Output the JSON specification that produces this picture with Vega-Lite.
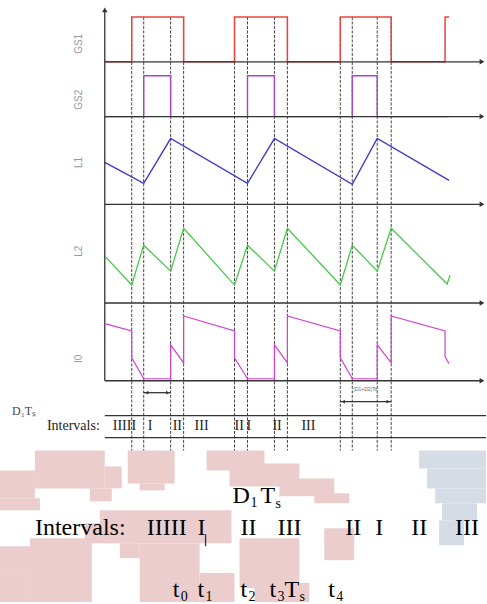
{
  "$schema": "https://vega.github.io/schema/vega-lite/v6.json",
  "width": 487,
  "height": 604,
  "autosize": {"type": "fit", "contains": "padding"},
  "padding": 0,
  "background": "white",
  "config": {"view": {"stroke": null}},
  "datasets": {
    "pink": [
      {"x": 0, "x2": 35, "y": 472, "y2": 500},
      {"x": 35, "x2": 105, "y": 452, "y2": 490},
      {"x": 0, "x2": 40, "y": 500, "y2": 512},
      {"x": 90, "x2": 112, "y": 490, "y2": 503},
      {"x": 105, "x2": 122, "y": 468, "y2": 490},
      {"x": 128, "x2": 175, "y": 452, "y2": 485},
      {"x": 140, "x2": 165, "y": 485, "y2": 492},
      {"x": 207, "x2": 265, "y": 452, "y2": 472},
      {"x": 230, "x2": 300, "y": 465, "y2": 488},
      {"x": 280, "x2": 335, "y": 480, "y2": 498},
      {"x": 315, "x2": 350, "y": 495, "y2": 505},
      {"x": 100, "x2": 232, "y": 512, "y2": 545},
      {"x": 85, "x2": 115, "y": 525, "y2": 545},
      {"x": 0, "x2": 40, "y": 548, "y2": 575},
      {"x": 30, "x2": 92, "y": 540, "y2": 604},
      {"x": 0, "x2": 30, "y": 575, "y2": 604},
      {"x": 140, "x2": 200, "y": 545, "y2": 604},
      {"x": 120, "x2": 140, "y": 545, "y2": 560},
      {"x": 200, "x2": 235, "y": 575, "y2": 604},
      {"x": 240, "x2": 300, "y": 540, "y2": 590},
      {"x": 255, "x2": 310, "y": 585, "y2": 604},
      {"x": 325, "x2": 355, "y": 530, "y2": 562}
    ],
    "blue": [
      {"x": 420, "x2": 487, "y": 452, "y2": 470},
      {"x": 428, "x2": 487, "y": 470, "y2": 490},
      {"x": 436, "x2": 487, "y": 490, "y2": 505},
      {"x": 443, "x2": 478, "y": 505, "y2": 522},
      {"x": 440, "x2": 465, "y": 522, "y2": 547}
    ],
    "axes": [
      {"x": 105, "x2": 105, "y": 382, "y2": 10},
      {"x": 105, "x2": 481, "y": 62, "y2": 62},
      {"x": 105, "x2": 481, "y": 117, "y2": 117},
      {"x": 105, "x2": 481, "y": 205, "y2": 205},
      {"x": 105, "x2": 481, "y": 304, "y2": 304},
      {"x": 105, "x2": 481, "y": 382, "y2": 382},
      {"x": 105, "x2": 487, "y": 417, "y2": 417},
      {"x": 105, "x2": 487, "y": 439, "y2": 439},
      {"x": 144, "x2": 171, "y": 394, "y2": 394},
      {"x": 341, "x2": 392, "y": 403, "y2": 403},
      {"x": 206, "x2": 206, "y": 536, "y2": 548}
    ],
    "heads": [
      {"x": 105, "y": 10, "d": "u"},
      {"x": 483, "y": 62, "d": "r"},
      {"x": 483, "y": 117, "d": "r"},
      {"x": 483, "y": 205, "d": "r"},
      {"x": 483, "y": 304, "d": "r"},
      {"x": 483, "y": 382, "d": "r"}
    ],
    "smallheads": [
      {"x": 147, "y": 394, "d": "l"},
      {"x": 168, "y": 394, "d": "r"},
      {"x": 344, "y": 403, "d": "l"},
      {"x": 389, "y": 403, "d": "r"}
    ],
    "verts": [
      {"x": 132, "x2": 132, "y": 17, "y2": 452},
      {"x": 144, "x2": 144, "y": 17, "y2": 452},
      {"x": 171, "x2": 171, "y": 17, "y2": 452},
      {"x": 184, "x2": 184, "y": 17, "y2": 452},
      {"x": 235, "x2": 235, "y": 17, "y2": 452},
      {"x": 248, "x2": 248, "y": 17, "y2": 452},
      {"x": 275, "x2": 275, "y": 17, "y2": 452},
      {"x": 288, "x2": 288, "y": 17, "y2": 452},
      {"x": 341, "x2": 341, "y": 17, "y2": 452},
      {"x": 353, "x2": 353, "y": 17, "y2": 452},
      {"x": 378, "x2": 378, "y": 17, "y2": 452},
      {"x": 392, "x2": 392, "y": 17, "y2": 452}
    ],
    "signals": [
      {"s": "GS1", "i": 1, "x": 105, "y": 62},
      {"s": "GS1", "i": 2, "x": 132, "y": 62},
      {"s": "GS1", "i": 3, "x": 132, "y": 17},
      {"s": "GS1", "i": 4, "x": 184, "y": 17},
      {"s": "GS1", "i": 5, "x": 184, "y": 62},
      {"s": "GS1", "i": 6, "x": 235, "y": 62},
      {"s": "GS1", "i": 7, "x": 235, "y": 17},
      {"s": "GS1", "i": 8, "x": 288, "y": 17},
      {"s": "GS1", "i": 9, "x": 288, "y": 62},
      {"s": "GS1", "i": 10, "x": 341, "y": 62},
      {"s": "GS1", "i": 11, "x": 341, "y": 17},
      {"s": "GS1", "i": 12, "x": 392, "y": 17},
      {"s": "GS1", "i": 13, "x": 392, "y": 62},
      {"s": "GS1", "i": 14, "x": 446, "y": 62},
      {"s": "GS1", "i": 15, "x": 446, "y": 17},
      {"s": "GS1", "i": 16, "x": 450, "y": 17},
      {"s": "GS2", "i": 1, "x": 105, "y": 117},
      {"s": "GS2", "i": 2, "x": 144, "y": 117},
      {"s": "GS2", "i": 3, "x": 144, "y": 76},
      {"s": "GS2", "i": 4, "x": 171, "y": 76},
      {"s": "GS2", "i": 5, "x": 171, "y": 117},
      {"s": "GS2", "i": 6, "x": 248, "y": 117},
      {"s": "GS2", "i": 7, "x": 248, "y": 76},
      {"s": "GS2", "i": 8, "x": 275, "y": 76},
      {"s": "GS2", "i": 9, "x": 275, "y": 117},
      {"s": "GS2", "i": 10, "x": 353, "y": 117},
      {"s": "GS2", "i": 11, "x": 353, "y": 76},
      {"s": "GS2", "i": 12, "x": 378, "y": 76},
      {"s": "GS2", "i": 13, "x": 378, "y": 117},
      {"s": "GS2", "i": 14, "x": 450, "y": 117},
      {"s": "L1", "i": 1, "x": 105, "y": 163},
      {"s": "L1", "i": 2, "x": 144, "y": 184},
      {"s": "L1", "i": 3, "x": 171, "y": 139},
      {"s": "L1", "i": 4, "x": 248, "y": 184},
      {"s": "L1", "i": 5, "x": 275, "y": 139},
      {"s": "L1", "i": 6, "x": 353, "y": 185},
      {"s": "L1", "i": 7, "x": 378, "y": 139},
      {"s": "L1", "i": 8, "x": 450, "y": 181},
      {"s": "L2", "i": 1, "x": 106, "y": 258},
      {"s": "L2", "i": 2, "x": 132, "y": 286},
      {"s": "L2", "i": 3, "x": 144, "y": 246},
      {"s": "L2", "i": 4, "x": 171, "y": 272},
      {"s": "L2", "i": 5, "x": 184, "y": 229},
      {"s": "L2", "i": 6, "x": 235, "y": 286},
      {"s": "L2", "i": 7, "x": 248, "y": 246},
      {"s": "L2", "i": 8, "x": 275, "y": 272},
      {"s": "L2", "i": 9, "x": 288, "y": 229},
      {"s": "L2", "i": 10, "x": 341, "y": 286},
      {"s": "L2", "i": 11, "x": 353, "y": 246},
      {"s": "L2", "i": 12, "x": 378, "y": 272},
      {"s": "L2", "i": 13, "x": 392, "y": 229},
      {"s": "L2", "i": 14, "x": 448, "y": 285},
      {"s": "L2", "i": 15, "x": 451, "y": 276},
      {"s": "I0", "i": 1, "x": 106, "y": 325},
      {"s": "I0", "i": 2, "x": 132, "y": 332},
      {"s": "I0", "i": 3, "x": 132, "y": 359},
      {"s": "I0", "i": 4, "x": 144, "y": 380},
      {"s": "I0", "i": 5, "x": 171, "y": 380},
      {"s": "I0", "i": 6, "x": 171, "y": 346},
      {"s": "I0", "i": 7, "x": 184, "y": 364},
      {"s": "I0", "i": 8, "x": 184, "y": 317},
      {"s": "I0", "i": 9, "x": 235, "y": 332},
      {"s": "I0", "i": 10, "x": 235, "y": 359},
      {"s": "I0", "i": 11, "x": 248, "y": 380},
      {"s": "I0", "i": 12, "x": 275, "y": 380},
      {"s": "I0", "i": 13, "x": 275, "y": 346},
      {"s": "I0", "i": 14, "x": 288, "y": 364},
      {"s": "I0", "i": 15, "x": 288, "y": 317},
      {"s": "I0", "i": 16, "x": 341, "y": 332},
      {"s": "I0", "i": 17, "x": 341, "y": 359},
      {"s": "I0", "i": 18, "x": 353, "y": 380},
      {"s": "I0", "i": 19, "x": 378, "y": 380},
      {"s": "I0", "i": 20, "x": 378, "y": 346},
      {"s": "I0", "i": 21, "x": 392, "y": 364},
      {"s": "I0", "i": 22, "x": 392, "y": 317},
      {"s": "I0", "i": 23, "x": 446, "y": 332},
      {"s": "I0", "i": 24, "x": 446, "y": 358},
      {"s": "I0", "i": 25, "x": 450, "y": 365}
    ],
    "labels": [
      {"t": "GS1", "x": 79, "y": 44},
      {"t": "GS2", "x": 79, "y": 100},
      {"t": "L1", "x": 79, "y": 163},
      {"t": "L2", "x": 79, "y": 252},
      {"t": "I0", "x": 79, "y": 360}
    ],
    "smalltext": [
      {"t": "Intervals:", "x": 47, "y": 431},
      {"t": "IIIII", "x": 113, "y": 431},
      {"t": "I", "x": 148, "y": 431},
      {"t": "II", "x": 173, "y": 431},
      {"t": "III", "x": 195, "y": 431},
      {"t": "II", "x": 235, "y": 431},
      {"t": "I", "x": 247, "y": 431},
      {"t": "II", "x": 273, "y": 431},
      {"t": "III", "x": 302, "y": 431}
    ],
    "dtlabel": [
      {"t": "D₁Tₛ", "x": 12, "y": 416}
    ],
    "tiny": [
      {"t": "(D1+D2)Ts", "x": 366, "y": 392}
    ],
    "big": [
      {"t": "D", "x": 233, "y": 505},
      {"t": "T", "x": 261, "y": 505},
      {"t": "Intervals:", "x": 35, "y": 537},
      {"t": "IIIII", "x": 147, "y": 537},
      {"t": "I", "x": 198, "y": 537},
      {"t": "II", "x": 241, "y": 537},
      {"t": "III", "x": 278, "y": 537},
      {"t": "II", "x": 346, "y": 537},
      {"t": "I", "x": 376, "y": 537},
      {"t": "II", "x": 412, "y": 537},
      {"t": "III", "x": 456, "y": 537},
      {"t": "t", "x": 173, "y": 599},
      {"t": "t", "x": 198, "y": 599},
      {"t": "t", "x": 241, "y": 599},
      {"t": "t", "x": 270, "y": 599},
      {"t": "T", "x": 285, "y": 599},
      {"t": "t", "x": 329, "y": 599}
    ],
    "subs": [
      {"t": "1", "x": 251, "y": 509},
      {"t": "s", "x": 276, "y": 510},
      {"t": "0", "x": 181, "y": 603},
      {"t": "1", "x": 206, "y": 603},
      {"t": "2", "x": 249, "y": 603},
      {"t": "3", "x": 278, "y": 603},
      {"t": "s", "x": 300, "y": 603},
      {"t": "4", "x": 337, "y": 603}
    ]
  },
  "encoding": {
    "x": {"field": "x", "type": "quantitative", "scale": {"domain": [0, 487], "nice": false, "zero": false}, "axis": null},
    "y": {"field": "y", "type": "quantitative", "scale": {"domain": [0, 604], "nice": false, "zero": false, "reverse": true}, "axis": null}
  },
  "layer": [
    {
      "data": {"name": "pink"},
      "mark": {"type": "rect", "color": "#ebcdce"},
      "encoding": {"x2": {"field": "x2"}, "y2": {"field": "y2"}}
    },
    {
      "data": {"name": "blue"},
      "mark": {"type": "rect", "color": "#d6dce5"},
      "encoding": {"x2": {"field": "x2"}, "y2": {"field": "y2"}}
    },
    {
      "data": {"name": "verts"},
      "mark": {"type": "rule", "color": "#444444", "strokeWidth": 1, "strokeDash": [3, 1.5]},
      "encoding": {"x2": {"field": "x2"}, "y2": {"field": "y2"}}
    },
    {
      "data": {"name": "signals"},
      "mark": {"type": "line", "interpolate": "linear"},
      "encoding": {
        "detail": {"field": "s", "type": "nominal"},
        "order": {"field": "i", "type": "quantitative"},
        "color": {"field": "s", "type": "nominal", "scale": {"domain": ["GS1", "GS2", "L1", "L2", "I0"], "range": ["#e8453c", "#a844c8", "#3b3bd0", "#44c844", "#d440d0"]}, "legend": null},
        "strokeWidth": {"field": "s", "type": "nominal", "scale": {"domain": ["GS1", "GS2", "L1", "L2", "I0"], "range": [1.5, 1.2, 2, 2, 1.5]}, "legend": null}
      }
    },
    {
      "data": {"name": "axes"},
      "mark": {"type": "rule", "color": "#333333", "strokeWidth": 1.3},
      "encoding": {"x2": {"field": "x2"}, "y2": {"field": "y2"}}
    },
    {
      "data": {"name": "heads"},
      "mark": {"type": "point", "filled": true, "color": "#333333", "size": 30, "opacity": 1},
      "encoding": {
        "shape": {"field": "d", "type": "nominal", "scale": {"domain": ["r", "l", "u"], "range": ["triangle-right", "triangle-left", "triangle-up"]}, "legend": null}
      }
    },
    {
      "data": {"name": "smallheads"},
      "mark": {"type": "point", "filled": true, "color": "#333333", "size": 14, "opacity": 1},
      "encoding": {
        "shape": {"field": "d", "type": "nominal", "scale": {"domain": ["r", "l", "u"], "range": ["triangle-right", "triangle-left", "triangle-up"]}, "legend": null}
      }
    },
    {
      "data": {"name": "labels"},
      "mark": {"type": "text", "angle": 270, "fontSize": 10, "font": "Liberation Sans", "color": "#999999", "align": "center", "baseline": "middle"},
      "encoding": {"text": {"field": "t"}}
    },
    {
      "data": {"name": "smalltext"},
      "mark": {"type": "text", "fontSize": 14, "font": "Liberation Serif", "color": "#222222", "align": "left", "baseline": "alphabetic"},
      "encoding": {"text": {"field": "t"}}
    },
    {
      "data": {"name": "dtlabel"},
      "mark": {"type": "text", "fontSize": 12, "font": "Liberation Serif", "color": "#444444", "align": "left", "baseline": "alphabetic"},
      "encoding": {"text": {"field": "t"}}
    },
    {
      "data": {"name": "tiny"},
      "mark": {"type": "text", "fontSize": 5, "font": "Liberation Sans", "color": "#666666", "align": "center", "baseline": "alphabetic"},
      "encoding": {"text": {"field": "t"}}
    },
    {
      "data": {"name": "big"},
      "mark": {"type": "text", "fontSize": 24, "font": "Liberation Serif", "color": "#000000", "align": "left", "baseline": "alphabetic"},
      "encoding": {"text": {"field": "t"}}
    },
    {
      "data": {"name": "subs"},
      "mark": {"type": "text", "fontSize": 14, "font": "Liberation Serif", "color": "#000000", "align": "left", "baseline": "alphabetic"},
      "encoding": {"text": {"field": "t"}}
    }
  ]
}
